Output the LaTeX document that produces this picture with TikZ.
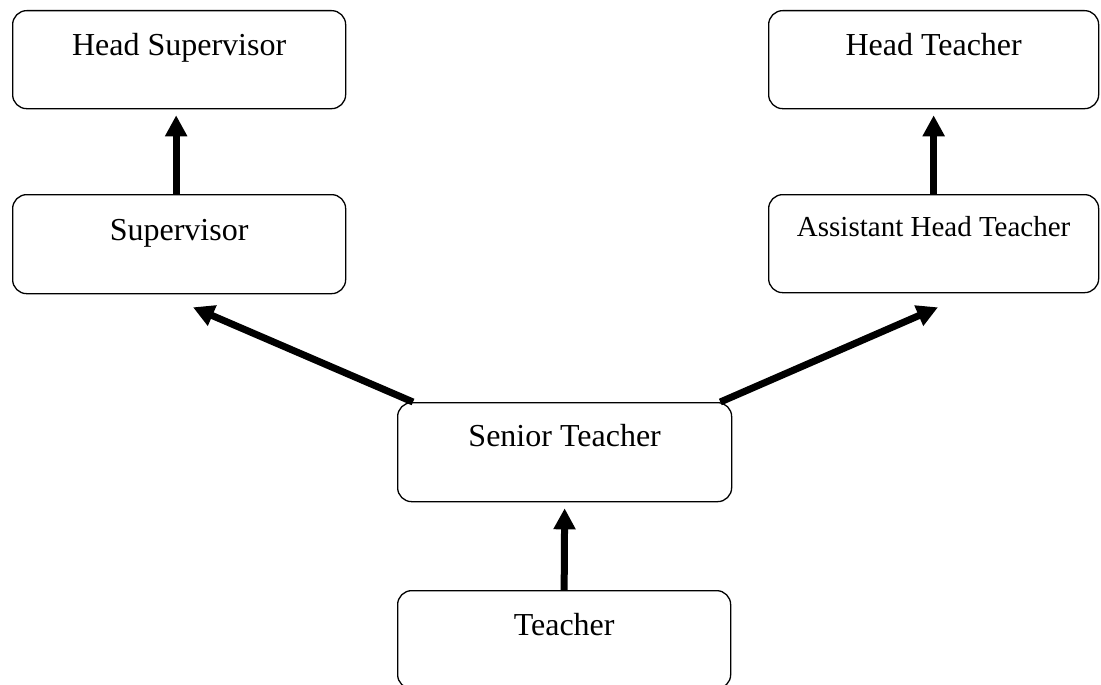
\documentclass[tikz,border=0pt]{standalone}
\usepackage{fontspec}
\setmainfont{Liberation Serif}
\usetikzlibrary{arrows.meta}
\tikzset{
  box/.style={draw, rounded corners=14pt, line width=1.3pt, inner sep=0pt,
    minimum width=333pt, text height=45pt, text depth=53pt, anchor=north west,
    font=\fontsize{32pt}{38pt}\selectfont},
  smallbox/.style={box, text height=42pt, text depth=56pt,
    font=\fontsize{29pt}{35pt}\selectfont},
  arr/.style={line width=7pt, -{Triangle[length=21pt,width=21pt]}}
}
\begin{document}
\begin{tikzpicture}[x=1pt,y=-1pt]
\useasboundingbox (0,0) rectangle (1101,685);
\node[box] (hsup) at (12,10) {Head Supervisor};
\node[box, minimum width=330pt] (htea) at (768,10) {Head Teacher};
\node[box, text height=46pt, text depth=53pt] (sup) at (12,194) {Supervisor};
\node[smallbox, minimum width=330pt] (aht) at (768,194) {Assistant Head Teacher};
\node[box, minimum width=334pt, text height=44pt, text depth=55pt] (st) at (397,402) {Senior Teacher};
\node[box, minimum width=333pt] (tea) at (397,590) {Teacher};

\draw[arr] ([xshift=-3pt]sup.north) -- ([xshift=-3pt,yshift=-6pt]hsup.south);
\draw[arr] (aht.north) -- ([yshift=-6pt]htea.south);
\draw[arr] (tea.north) -- ([yshift=-6pt]st.south);
\draw[arr] ([xshift=16pt]st.north west) -- ([shift={(181pt,-13pt)}]sup.south west);
\draw[arr] ([xshift=-12pt]st.north east) -- ([shift={(170pt,-14pt)}]aht.south west);
\end{tikzpicture}
\end{document}
